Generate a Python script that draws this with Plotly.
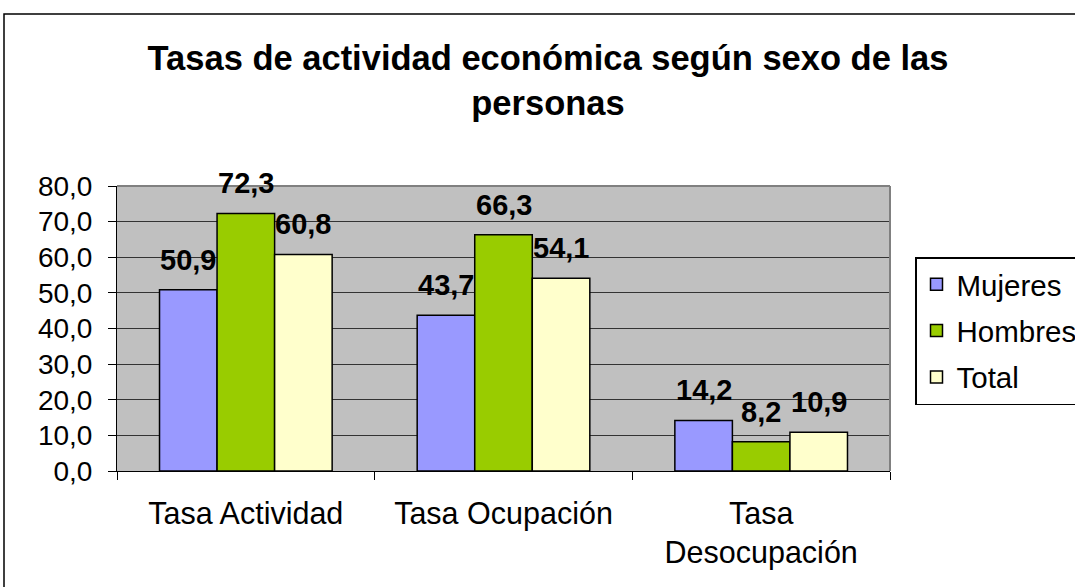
import plotly.graph_objects as go

categories = ["Tasa Actividad", "Tasa Ocupación", "Tasa<br>Desocupación"]
series_names = ["Mujeres", "Hombres", "Total"]
mujeres = [50.9, 43.7, 14.2]
hombres = [72.3, 66.3, 8.2]
total = [60.8, 54.1, 10.9]
series_values = [mujeres, hombres, total]
colors = ["#9999FF", "#99CC00", "#FFFFCC"]
y_ticks = [0, 10, 20, 30, 40, 50, 60, 70, 80]

W, H = 1075, 587
L, R, T, B = 117, 185, 186, 116
pw, ph = W - L - R, H - T - B

FONT = "Liberation Sans, Arial, sans-serif"

fig = go.Figure()
for name, vals, col in zip(series_names, series_values, colors):
    fig.add_trace(go.Bar(
        x=categories, y=vals, name=name, legendgroup=name,
        marker=dict(color=col, line=dict(color="black", width=1.5)),
    ))

bargap = 0.33
bar_px = pw / len(categories) * (1 - bargap) / len(series_names)
for i, vals in enumerate(series_values):
    shift = (i - 1) * bar_px
    for c, v in zip(categories, vals):
        fig.add_annotation(
            x=c, y=v, text=f"{v:.1f}".replace(".", ","), showarrow=False,
            xshift=shift, yanchor="bottom", yshift=12,
            font=dict(family=FONT, size=29, color="black", weight="bold"),
        )

def px_x(x):
    return (x - L) / pw

def px_y(y):
    return (H - B - y) / ph

fig.add_shape(type="rect", xref="paper", yref="paper",
              x0=px_x(4), x1=px_x(W + 10), y0=px_y(14), y1=px_y(H + 10),
              line=dict(color="black", width=1.5), fillcolor="rgba(0,0,0,0)", layer="below")
# gray plot-area frame (top and right)
fig.add_shape(type="line", xref="paper", yref="paper", x0=0, x1=1, y0=1, y1=1,
              line=dict(color="#808080", width=2), layer="above")
fig.add_shape(type="line", xref="paper", yref="paper", x0=1, x1=1, y0=0, y1=1,
              line=dict(color="#808080", width=2), layer="above")

fig.update_layout(
    width=W, height=H,
    margin=dict(l=L, r=R, t=T, b=B, autoexpand=False),
    paper_bgcolor="white", plot_bgcolor="#C0C0C0",
    separators=",.",
    barmode="group", bargap=bargap, bargroupgap=0,
    title=dict(text="<b>Tasas de actividad económica según sexo de las<br>personas</b>",
               x=548 / W, xanchor="center", y=1 - 70 / H, yanchor="top",
               font=dict(family=FONT, size=34.5, color="black")),
    font=dict(family=FONT, size=29, color="black"),
    legend=dict(xref="container", yref="container",
                x=915 / W, y=1 - 257 / H, xanchor="left", yanchor="top",
                bordercolor="black", borderwidth=1.5, bgcolor="white",
                font=dict(family=FONT, size=29.5, color="black"),
                tracegroupgap=5, traceorder="grouped"),
    xaxis=dict(showline=True, linecolor="black", linewidth=1, ticks="outside",
               tickson="boundaries", ticklen=8, tickcolor="black",
               ticklabelstandoff=15, tickfont=dict(size=30.5)),
    yaxis=dict(range=[0, 80], tickvals=y_ticks, tickformat=".1f",
               showgrid=True, gridcolor="#333333", gridwidth=1,
               showline=True, linecolor="black", linewidth=1,
               ticks="outside", ticklen=8, tickcolor="black",
               ticklabelstandoff=10, tickfont=dict(size=28), zeroline=False),
)

fig.write_html("out.html", config={"displayModeBar": False},
               post_script="document.body.style.margin='0';")
